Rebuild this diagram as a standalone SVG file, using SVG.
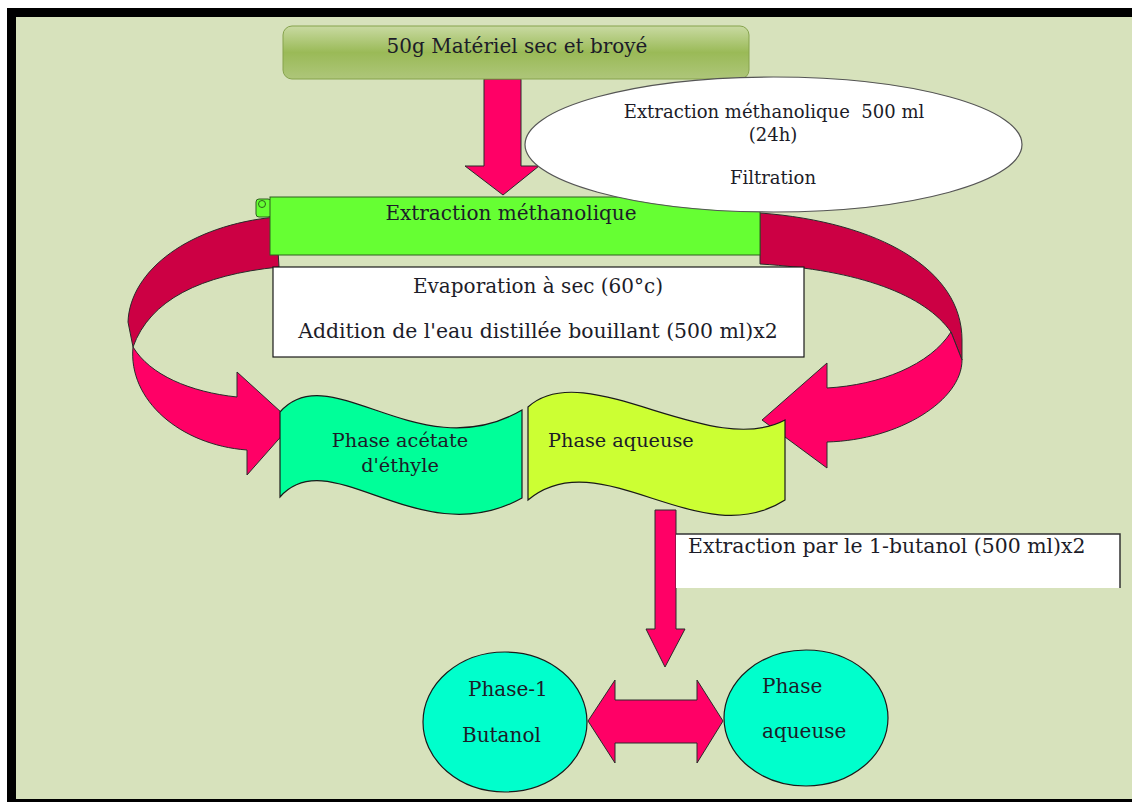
<svg xmlns="http://www.w3.org/2000/svg" width="1132" height="802" viewBox="0 0 1132 802">
<defs>
<linearGradient id="olive" x1="0" y1="0" x2="0" y2="1">
<stop offset="0" stop-color="#c9daa2"/>
<stop offset="0.5" stop-color="#9aba57"/>
<stop offset="1" stop-color="#aec67a"/>
</linearGradient>
<style>
.t{font-family:"DejaVu Serif","Liberation Serif",serif;font-size:20px;fill:#1c1c28}
.tl{font-size:20.4px}
.tp{font-size:19.3px}
.ts{font-family:"DejaVu Serif","Liberation Serif",serif;font-size:18px;fill:#1c1c28;white-space:pre}
.c{text-anchor:middle}
.arr{fill:#ff0066;stroke:#2a2a2a;stroke-width:1}
.dark{fill:#cc0044;stroke:#2a2a2a;stroke-width:1}
</style>
</defs>
<rect x="0" y="0" width="1132" height="802" fill="#ffffff"/>
<rect x="7" y="8" width="1125" height="794" fill="#000000"/>
<rect x="16" y="17" width="1116" height="782" fill="#d7e2bc"/>

<g id="connectors">
<path class="arr" d="M484,79 L521,79 L521,166 L539,166 L503,195 L465,166 L484,166 Z"/>
<path class="dark" d="M276,217 C190,225 130,270 128,322 L133,347 C150,300 200,275 279,267 Z"/>
<path class="arr" d="M133,347 C128,400 180,445 247,450 L247,475 L293,423 L237,372 L237,397 C190,392 150,375 133,347 Z"/>
<path class="dark" d="M760,213 C880,222 962,270 962,340 L962,360 L951,332 C925,295 860,270 760,264 Z"/>
<path class="arr" d="M951,332 L962,360 C962,400 900,440 827,442 L827,468 L762,420 L827,363 L827,388 C880,385 930,365 951,332 Z"/>
<path class="arr" d="M655,510 L676,510 L676,629 L685,629 L665,667 L646,629 L655,629 Z"/>
<path class="arr" d="M588,721 L615,680 L615,700 L697,700 L697,680 L723,721 L697,763 L697,743 L615,743 L615,763 Z"/>
</g>

<g id="start">
<rect x="283" y="26" width="466" height="53" rx="9" fill="url(#olive)" stroke="#86a34d" stroke-width="1"/>
<text class="t c" x="517" y="53">50g Matériel sec et broyé</text>
</g>

<g id="extraction">
<rect x="256" y="199" width="15" height="18" rx="3" fill="#66ff33" stroke="#2e5e1e" stroke-width="1"/>
<circle cx="262" cy="204" r="3.5" fill="#66ff33" stroke="#2e5e1e" stroke-width="1"/>
<rect x="270" y="197" width="490" height="58" fill="#66ff33" stroke="#2e5e1e" stroke-width="1"/>
<text class="t c" x="511" y="220">Extraction méthanolique</text>
</g>

<g id="evaporation">
<rect x="273" y="267" width="531" height="90" fill="#ffffff" stroke="#1a1a1a" stroke-width="1.2"/>
<text class="t c" x="538" y="293">Evaporation à sec (60°c)</text>
<text class="t tl c" x="538" y="338">Addition de l'eau distillée bouillant (500 ml)x2</text>
</g>

<g id="ellipse">
<ellipse cx="773.5" cy="144.5" rx="248.5" ry="67.5" fill="#ffffff" stroke="#555555" stroke-width="1.2"/>
<text class="ts c" x="774" y="118">Extraction méthanolique  500 ml</text>
<text class="ts c" x="773" y="141">(24h)</text>
<text class="ts c" x="773" y="184">Filtration</text>
</g>

<g id="phase-acetate">
<path d="M280,412 C330,355 420,470 522,410 L522,498 C420,555 330,440 280,497 Z" fill="#00ff99" stroke="#1a1a1a" stroke-width="1.2"/>
<text class="t tp c" x="400" y="447">Phase acétate</text>
<text class="t tp c" x="400" y="472">d'éthyle</text>
</g>

<g id="phase-aqueuse">
<path d="M528,407 C585,355 710,460 785,420 L785,500 C700,555 600,440 528,500 Z" fill="#ccff33" stroke="#1a1a1a" stroke-width="1.2"/>
<text class="t tp" x="548" y="447">Phase aqueuse</text>
</g>

<g id="butanol-step">
<rect x="676" y="534" width="444" height="54" fill="#ffffff"/>
<path d="M676,534 H1120 V588" fill="none" stroke="#333333" stroke-width="1.5"/>
<text class="t tl" x="688" y="553">Extraction par le 1-butanol (500 ml)x2</text>
</g>

<g id="phase-butanol">
<ellipse cx="505" cy="722" rx="82" ry="70" fill="#00ffcc" stroke="#1a1a1a" stroke-width="1.2"/>
<text class="t" x="468" y="696">Phase-1</text>
<text class="t" x="462" y="742">Butanol</text>
</g>

<g id="phase-aqueuse-2">
<ellipse cx="806" cy="718" rx="82" ry="68" fill="#00ffcc" stroke="#1a1a1a" stroke-width="1.2"/>
<text class="t" x="762" y="693">Phase</text>
<text class="t" x="762" y="738">aqueuse</text>
</g>
</svg>
